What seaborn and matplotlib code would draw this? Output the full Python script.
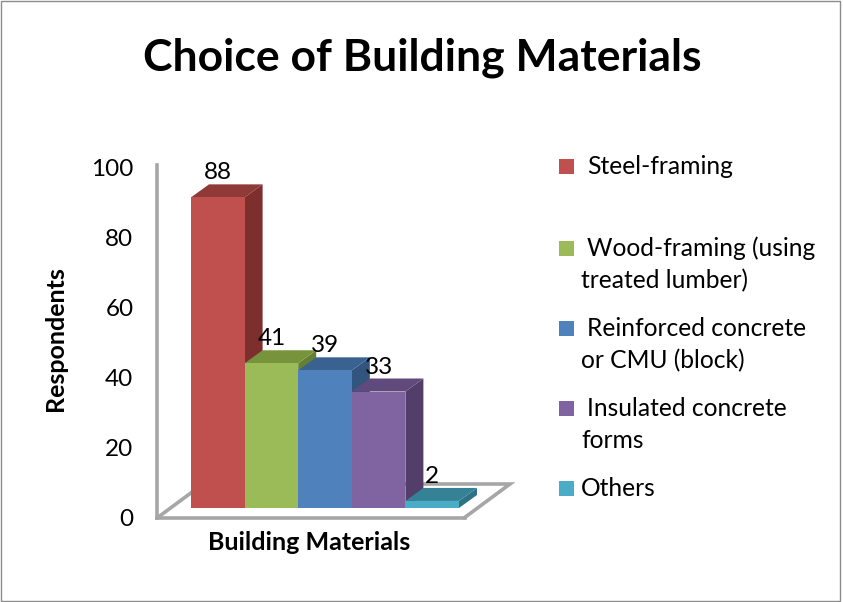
import matplotlib
matplotlib.use("Agg")
import matplotlib.pyplot as plt
import pandas as pd
import seaborn as sns
from matplotlib.patches import Rectangle

W, H = 843, 602

categories = ["Steel-framing", "Wood-framing (using\ntreated lumber)", "Reinforced concrete\nor CMU (block)",
              "Insulated concrete\nforms", "Others"]
respondents = [88, 41, 39, 33, 2]
y_ticks = [0, 20, 40, 60, 80, 100]
front_colors = ["#C0504D", "#9BBB59", "#4F81BD", "#8064A2", "#4BACC6"]
top_colors = ["#8F3A37", "#77933C", "#3A6291", "#604A7B", "#358296"]
side_colors = ["#7C2F2D", "#667F33", "#325580", "#533D69", "#2E7285"]

# layout in pixels of the reference
PX_PER_CAT = 53.6
PX_PER_UNIT = 3.53
DEPTH_X = 18 / PX_PER_CAT
DEPTH_Y = 13 / PX_PER_UNIT
GRAY = "#A6A6A6"
legend_baselines = [173, 255, 335, 415, 495]
legend_line_gap = 32


def px_axes(fig, left, right, top, bottom):
    return fig.add_axes([left / W, 1 - bottom / H, (right - left) / W, (bottom - top) / H])


sns.set_theme(style="white")
plt.rcParams["font.family"] = ["Lato", "DejaVu Sans"]

fig = plt.figure(figsize=(W / 100, H / 100), dpi=100, facecolor="white")
fig.add_artist(Rectangle((1 / W, 1 / H), 839 / W, 1 - 2 / H, transform=fig.transFigure,
                         fill=False, edgecolor="#8C8C8C", lw=1))

# back wall: carries the y axis, sits up and left of the bars
wall = px_axes(fig, 157, 465, 167, 518)
wall.patch.set_alpha(0)
wall.set_xlim(0, 1)
wall.set_ylim(0, 100)
wall.set_xticks([])
wall.set_yticks(y_ticks)
wall.tick_params(axis="y", length=0, pad=17, labelsize=17.5, labelcolor="black")
for side in ["top", "right"]:
    wall.spines[side].set_visible(False)
for side in ["left", "bottom"]:
    wall.spines[side].set_color(GRAY)
    wall.spines[side].set_linewidth(2.6)
wall.spines["left"].set_bounds(0, 100.5)
wall.set_ylabel("Respondents", fontsize=18, fontweight="bold", color="black", labelpad=17, y=0.51)
wall.set_xlabel("Building Materials", fontsize=18, fontweight="bold", color="black", labelpad=9.5, x=0.495)

# front plane of the bars
ax = px_axes(fig, 191, 459, 508 - 100 * PX_PER_UNIT, 508)
ax.patch.set_alpha(0)
df = pd.DataFrame({"material": categories, "respondents": respondents})
sns.barplot(data=df, x="material", y="respondents", hue="material", palette=front_colors,
            width=1, dodge=False, legend=False, saturation=1, linewidth=0, ax=ax, zorder=3)
ax.set_xlim(-0.5, 4.5)
ax.set_ylim(0, 100)
ax.set_axis_off()

# floor of the 3D box
fl_y = -10 / PX_PER_UNIT
fl_left = -0.5 - 34 / PX_PER_CAT
fl_right = 4.5 + 5 / PX_PER_CAT
fl_dx = 46 / PX_PER_CAT
fl_dy = 34 / PX_PER_UNIT
ax.plot([fl_left, fl_left + fl_dx, fl_right + fl_dx, fl_right],
        [fl_y, fl_y + fl_dy, fl_y + fl_dy, fl_y], color=GRAY, lw=2.6, clip_on=False, zorder=0.2,
        solid_joinstyle="miter")

# depth faces, drawn left to right so each top covers the side before it
for i, value in enumerate(respondents):
    right = i + 0.5
    left = i - 0.5
    ax.fill([right, right + DEPTH_X, right + DEPTH_X, right], [0, DEPTH_Y, value + DEPTH_Y, value],
            color=side_colors[i], lw=0, clip_on=False, zorder=0.5)
    ax.fill([left, left + DEPTH_X, right + DEPTH_X, right], [value, value + DEPTH_Y, value + DEPTH_Y, value],
            color=top_colors[i], lw=0, clip_on=False, zorder=0.5)

for i, container in enumerate(ax.containers):
    ax.bar_label(container, labels=[str(respondents[i])], padding=10, fontsize=17.5, color="black", zorder=5)

fig.text(422 / W, 1 - 70 / H, "Choice of Building Materials", ha="center", va="baseline",
         fontsize=32, fontweight="bold", color="black")

# legend rows have uneven gaps and a hanging first line, so it is laid out by hand
for i, (label, base) in enumerate(zip(categories, legend_baselines)):
    fig.add_artist(Rectangle((559 / W, 1 - (base + 1) / H), 15 / W, 15 / H, transform=fig.transFigure,
                             facecolor=front_colors[i], edgecolor="none"))
    lines = label.split("\n")
    first_x = 581 if label == "Others" else 587
    for j, line in enumerate(lines):
        fig.text((first_x if j == 0 else 581) / W, 1 - (base + 1 + j * legend_line_gap) / H, line,
                 ha="left", va="baseline", fontsize=17.7, color="black")

fig.savefig("out.png", dpi=100)
